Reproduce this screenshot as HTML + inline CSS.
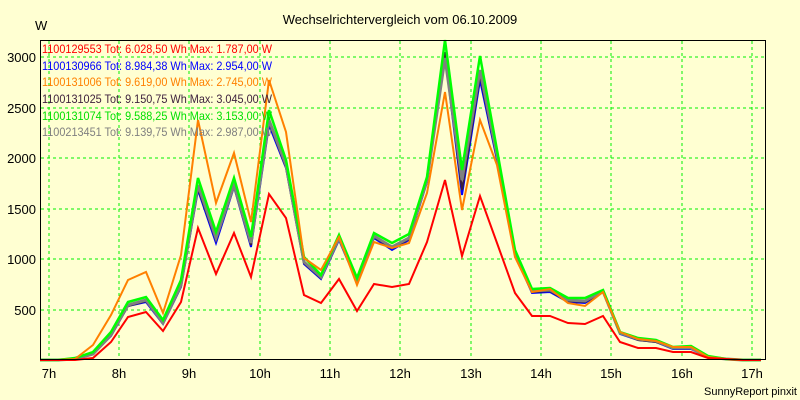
<!DOCTYPE html>
<html><head><meta charset="utf-8"><style>
body{margin:0;background:#ffffd2;}
svg{display:block;font-family:"Liberation Sans",sans-serif;}
</style></head><body>
<svg width="800" height="400" viewBox="0 0 800 400" xmlns="http://www.w3.org/2000/svg">
<rect width="800" height="400" fill="#ffffd2"/>
<text x="400" y="24" font-size="13" text-anchor="middle">Wechselrichtervergleich vom 06.10.2009</text>
<text x="35" y="30" font-size="13">W</text>
<g stroke="#00f000" stroke-width="1" stroke-dasharray="3,3">
<line x1="49" y1="41" x2="49" y2="359"/><line x1="119" y1="41" x2="119" y2="359"/><line x1="189" y1="41" x2="189" y2="359"/><line x1="260" y1="41" x2="260" y2="359"/><line x1="330" y1="41" x2="330" y2="359"/><line x1="400" y1="41" x2="400" y2="359"/><line x1="471" y1="41" x2="471" y2="359"/><line x1="541" y1="41" x2="541" y2="359"/><line x1="611" y1="41" x2="611" y2="359"/><line x1="682" y1="41" x2="682" y2="359"/><line x1="752" y1="41" x2="752" y2="359"/>
<line x1="41" y1="310" x2="765" y2="310"/><line x1="41" y1="259" x2="765" y2="259"/><line x1="41" y1="209" x2="765" y2="209"/><line x1="41" y1="158" x2="765" y2="158"/><line x1="41" y1="108" x2="765" y2="108"/><line x1="41" y1="57" x2="765" y2="57"/>
</g>
<g font-size="13" text-anchor="end">
<text x="36" y="315">500</text><text x="36" y="264">1000</text><text x="36" y="214">1500</text><text x="36" y="163">2000</text><text x="36" y="113">2500</text><text x="36" y="62">3000</text>
</g>
<g font-size="13" text-anchor="middle">
<text x="49" y="378">7h</text><text x="119" y="378">8h</text><text x="189" y="378">9h</text><text x="260" y="378">10h</text><text x="330" y="378">11h</text><text x="400" y="378">12h</text><text x="471" y="378">13h</text><text x="541" y="378">14h</text><text x="611" y="378">15h</text><text x="682" y="378">16h</text><text x="752" y="378">17h</text>
</g>
<text x="797" y="395" font-size="11" text-anchor="end">SunnyReport pinxit</text>
<g fill="none" stroke-linejoin="miter">
<polyline stroke="#0000ff" stroke-width="2" points="40,360 58,360 75,359 93,354 111,336 128,306 146,302 163,324 181,287 198,190 216,243 234,187 251,247 269,125 286,168 304,264 321,279 339,240 357,282 374,238 392,250 409,240 427,182 445,55 462,195 480,80 497,160 515,255 532,293 550,292 568,302 585,303 603,292 620,334 638,340 656,342 673,349 691,349 708,357 726,359 743,360 761,360"/>
<polyline stroke="#3c1f3c" stroke-width="2" points="40,360 58,360 75,359 93,354 111,335 128,306 146,301 163,323 181,286 198,188 216,240 234,186 251,245 269,122 286,167 304,263 321,278 339,239 357,281 374,237 392,248 409,239 427,181 445,52 462,190 480,75 497,158 515,254 532,292 550,291 568,301 585,302 603,292 620,333 638,340 656,342 673,348 691,348 708,357 726,359 743,360 761,360"/>
<polyline stroke="#808080" stroke-width="3" points="40,360 58,360 75,359 93,354 111,335 128,305 146,300 163,323 181,285 198,185 216,238 234,185 251,243 269,120 286,165 304,262 321,277 339,238 357,280 374,236 392,247 409,238 427,180 445,58 462,180 480,70 497,155 515,253 532,291 550,290 568,300 585,301 603,291 620,333 638,339 656,341 673,348 691,348 708,357 726,359 743,360 761,360"/>
<polyline stroke="#00ff00" stroke-width="2.5" points="40,360 58,360 75,358 93,352 111,332 128,302 146,297 163,320 181,280 198,178 216,232 234,178 251,237 269,110 286,160 304,257 321,275 339,235 357,278 374,233 392,243 409,234 427,177 445,40 462,170 480,56 497,150 515,250 532,289 550,288 568,298 585,298 603,290 620,332 638,338 656,340 673,347 691,346 708,356 726,359 743,360 761,360"/>
<polyline stroke="#ff8000" stroke-width="2" points="40,360 58,360 75,359 93,345 111,315 128,280 146,272 163,313 181,255 198,120 216,203 234,153 251,222 269,80 286,132 304,258 321,270 339,237 357,285 374,242 392,248 409,243 427,193 445,92 462,210 480,120 497,165 515,257 532,292 550,289 568,303 585,306 603,292 620,332 638,339 656,341 673,347 691,347 708,357 726,359 743,360 761,360"/>
<polyline stroke="#ff0000" stroke-width="2" points="40,360 58,360 75,360 93,358 111,342 128,317 146,312 163,331 181,302 198,228 216,274 234,233 251,277 269,194 286,218 304,295 321,303 339,279 357,311 374,284 392,287 409,284 427,242 445,180 462,256 480,196 497,243 515,293 532,316 550,316 568,323 585,324 603,316 620,342 638,348 656,348 673,352 691,352 708,358 726,359 743,360 761,360"/>
</g>
<g font-size="12" lengthAdjust="spacingAndGlyphs">
<text x="42" y="53" fill="#ff0000" textLength="230" lengthAdjust="spacingAndGlyphs">1100129553 Tot: 6.028,50 Wh Max: 1.787,00 W</text>
<text x="42" y="70" fill="#0000ff" textLength="230" lengthAdjust="spacingAndGlyphs">1100130966 Tot: 8.984,38 Wh Max: 2.954,00 W</text>
<text x="42" y="86" fill="#ff8000" textLength="230" lengthAdjust="spacingAndGlyphs">1100131006 Tot: 9.619,00 Wh Max: 2.745,00 W</text>
<text x="42" y="103" fill="#3c1f3c" textLength="230" lengthAdjust="spacingAndGlyphs">1100131025 Tot: 9.150,75 Wh Max: 3.045,00 W</text>
<text x="42" y="120" fill="#00e000" textLength="230" lengthAdjust="spacingAndGlyphs">1100131074 Tot: 9.588,25 Wh Max: 3.153,00 W</text>
<text x="42" y="136" fill="#808080" textLength="230" lengthAdjust="spacingAndGlyphs">1100213451 Tot: 9.139,75 Wh Max: 2.987,00 W</text>
</g>
<rect x="40.5" y="40.5" width="725" height="319" fill="none" stroke="#000" stroke-width="1"/>
</svg>
</body></html>
